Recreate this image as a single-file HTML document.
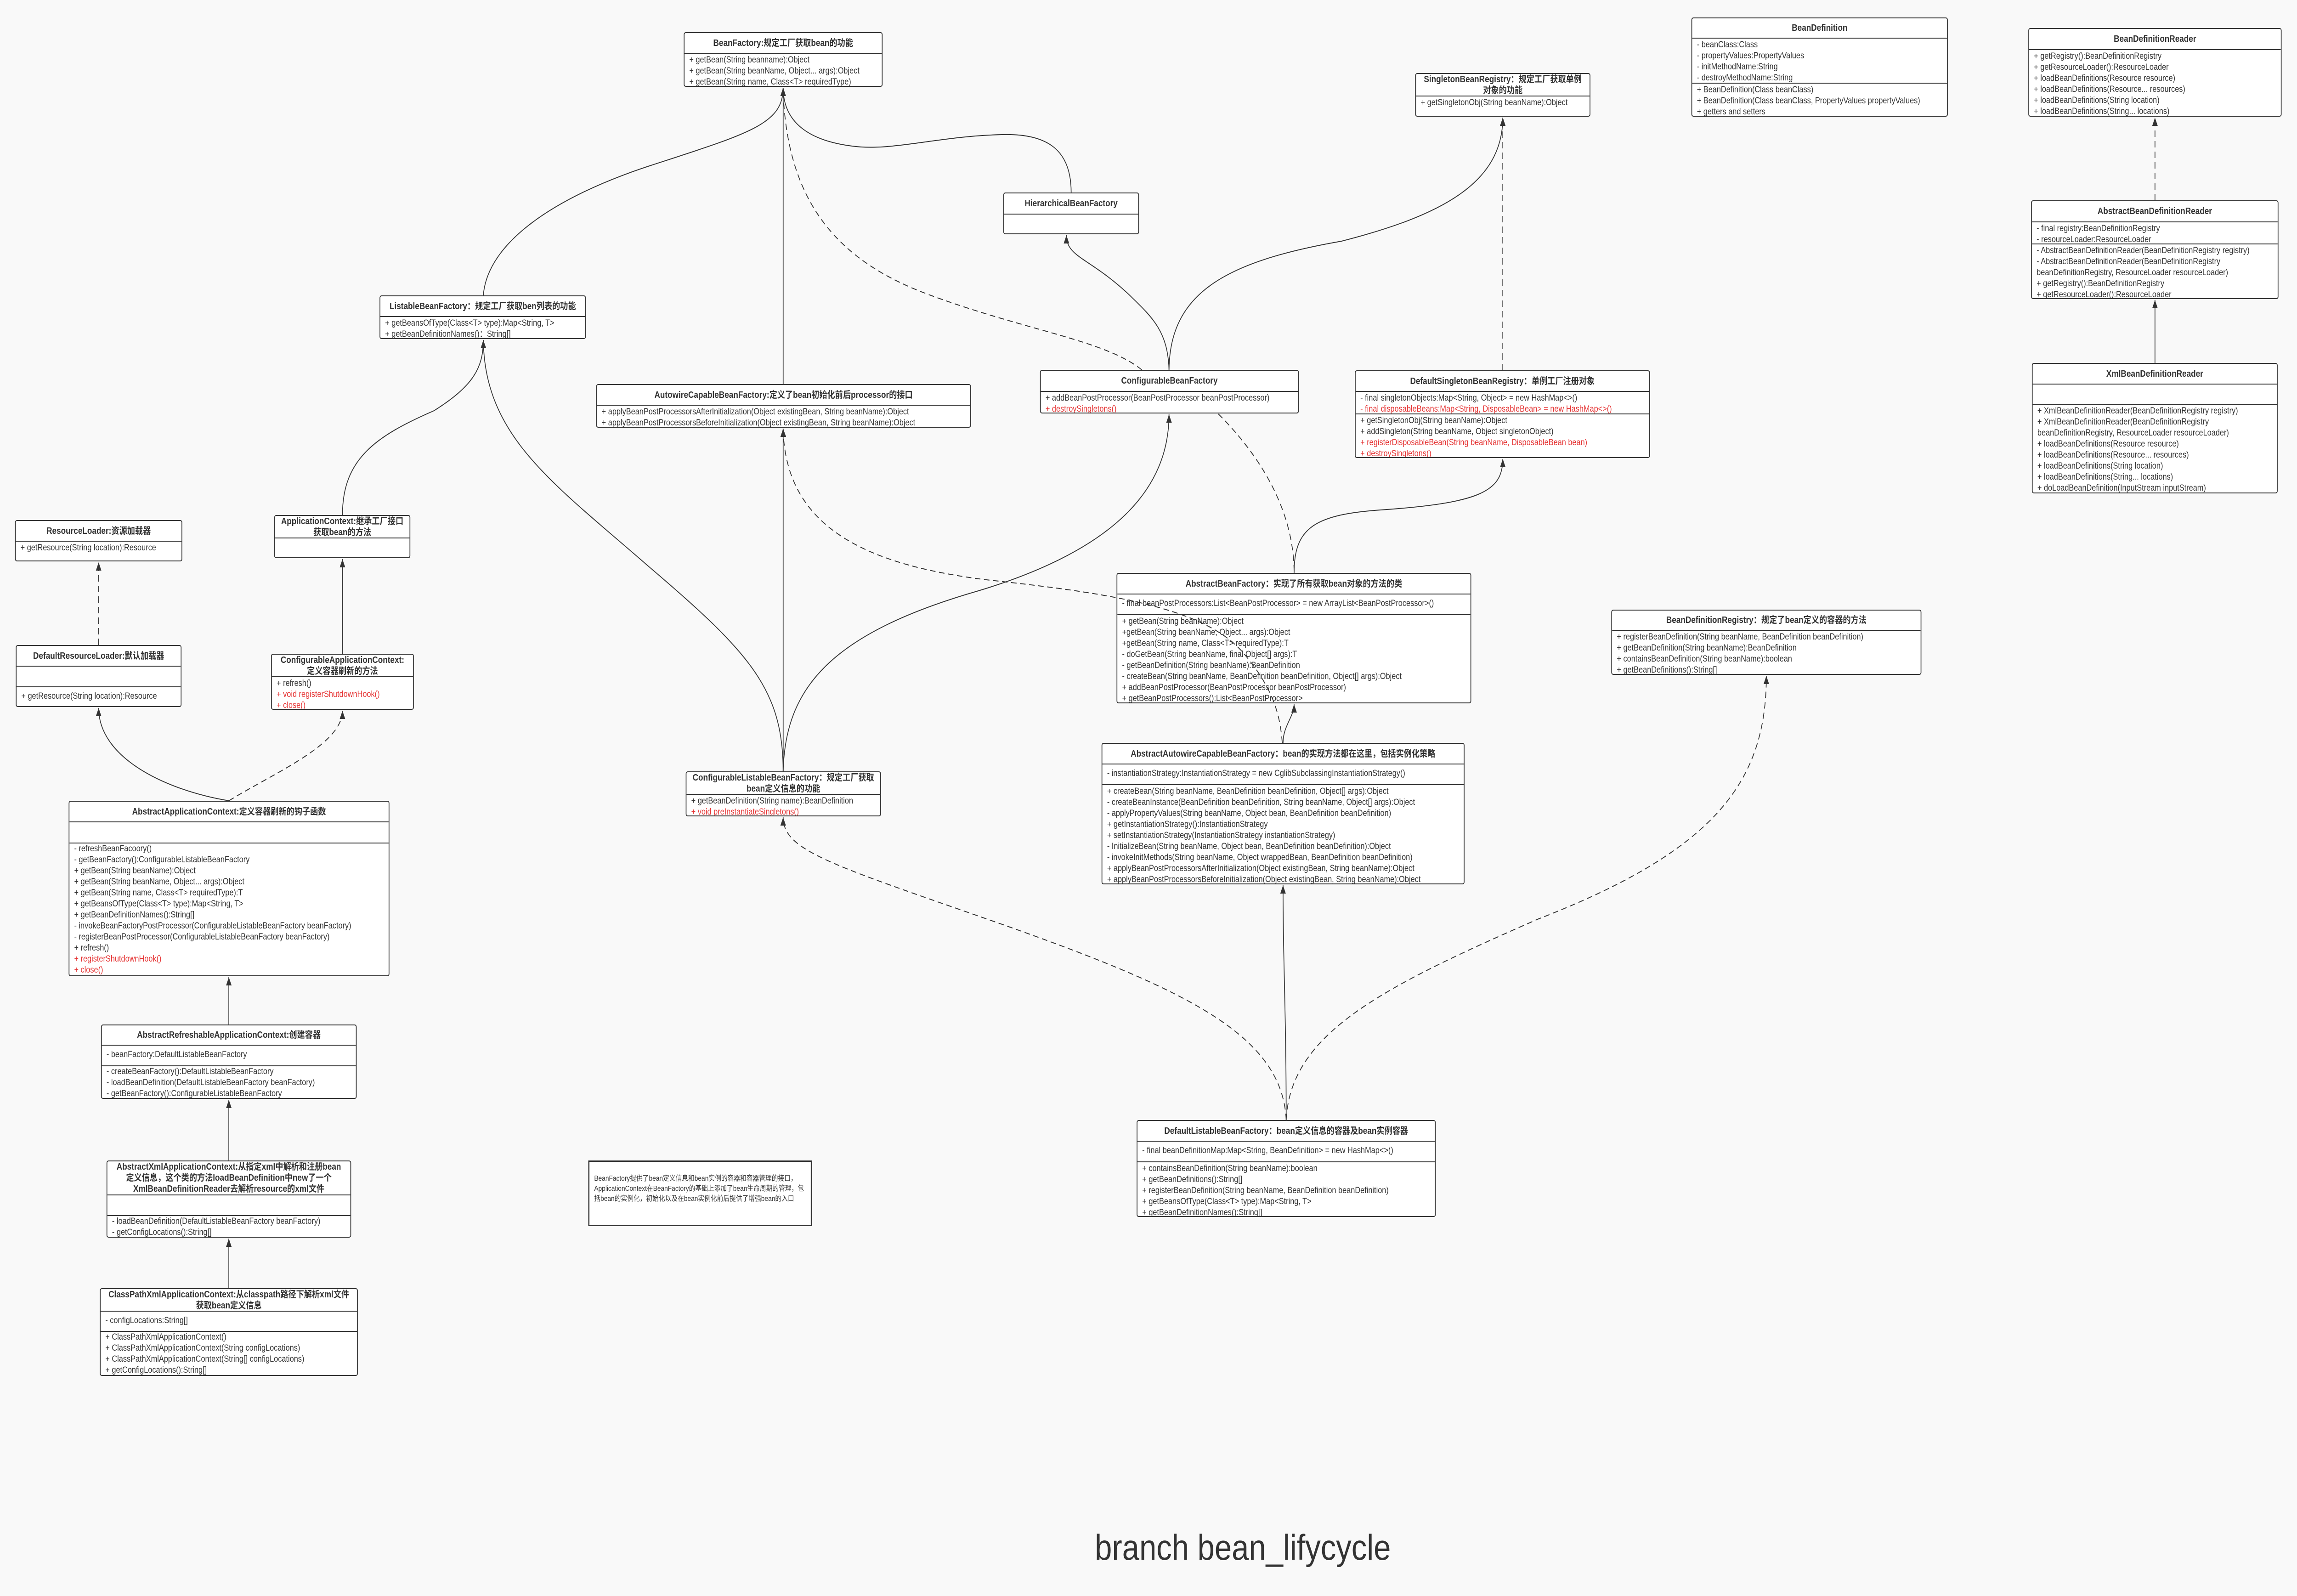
<!DOCTYPE html>
<html><head><meta charset="utf-8"><meta name="viewport" content="width=5822, initial-scale=1"><style>
html,body{margin:0;padding:0;width:100vw;height:100vh;overflow:hidden;background:#f9f9f9}
#root{position:absolute;left:0;top:0;width:5822px;height:3474px;overflow:hidden;background:#f9f9f9;font-family:"Liberation Sans","Noto Sans CJK SC",sans-serif;color:#333;transform-origin:0 0}
.b{position:absolute;border:2px solid #333;border-radius:5px;background:#fff;box-sizing:border-box;overflow:hidden}
.t{border-bottom:2px solid #333;font-weight:bold;font-size:20px;line-height:24px;text-align:center;display:flex;align-items:center;justify-content:center;box-sizing:border-box;white-space:nowrap;overflow:hidden}
.a{border-bottom:2px solid #333;box-sizing:border-box;font-size:19px;line-height:24px;padding:2px 12px;white-space:nowrap;overflow:hidden}
.m{font-size:19px;line-height:24px;padding:2px 12px;white-space:nowrap;overflow:hidden}
.r{color:#e53333}
svg{position:absolute;left:0;top:0}
</style></head><body><div id="root">

<div class="b" style="left:1733px;top:70px;width:504px;height:119px"><div class="t" style="height:45px">BeanFactory:规定工厂获取bean的功能</div><div class="m">+ getBean(String beanname):Object<br>+ getBean(String beanName, Object... args):Object<br>+ getBean(String name, Class&lt;T&gt; requiredType)</div></div>

<div class="b" style="left:2543px;top:419px;width:344px;height:91px"><div class="t" style="height:46px">HierarchicalBeanFactory</div></div>

<div class="b" style="left:962px;top:643px;width:523px;height:95px"><div class="t" style="height:45px">ListableBeanFactory：规定工厂获取ben列表的功能</div><div class="m">+ getBeansOfType(Class&lt;T&gt; type):Map&lt;String, T&gt;<br>+ getBeanDefinitionNames()：String[]</div></div>

<div class="b" style="left:1511px;top:836px;width:950px;height:95px"><div class="t" style="height:45px">AutowireCapableBeanFactory:定义了bean初始化前后processor的接口</div><div class="m">+ applyBeanPostProcessorsAfterInitialization(Object existingBean, String beanName):Object<br>+ applyBeanPostProcessorsBeforeInitialization(Object existingBean, String beanName):Object</div></div>

<div class="b" style="left:2636px;top:805px;width:656px;height:95px"><div class="t" style="height:46px">ConfigurableBeanFactory</div><div class="m">+ addBeanPostProcessor(BeanPostProcessor beanPostProcessor)<br><span class="r">+ destroySingletons()</span></div></div>

<div class="b" style="left:3587px;top:159px;width:444px;height:95px"><div class="t" style="height:49px">SingletonBeanRegistry：规定工厂获取单例<br>对象的功能</div><div class="m">+ getSingletonObj(String beanName):Object</div></div>

<div class="b" style="left:4287px;top:38px;width:650px;height:216px"><div class="t" style="height:44px">BeanDefinition</div><div class="a" style="height:98px">- beanClass:Class<br>- propertyValues:PropertyValues<br>- initMethodName:String<br>- destroyMethodName:String</div><div class="m">+ BeanDefinition(Class beanClass)<br>+ BeanDefinition(Class beanClass, PropertyValues propertyValues)<br>+ getters and setters</div></div>

<div class="b" style="left:5141px;top:61px;width:642px;height:193px"><div class="t" style="height:46px">BeanDefinitionReader</div><div class="m">+ getRegistry():BeanDefinitionRegistry<br>+ getResourceLoader():ResourceLoader<br>+ loadBeanDefinitions(Resource resource)<br>+ loadBeanDefinitions(Resource... resources)<br>+ loadBeanDefinitions(String location)<br>+ loadBeanDefinitions(String... locations)</div></div>

<div class="b" style="left:5148px;top:436px;width:627px;height:215px"><div class="t" style="height:46px">AbstractBeanDefinitionReader</div><div class="a" style="height:48px">- final registry:BeanDefinitionRegistry<br>- resourceLoader:ResourceLoader</div><div class="m">- AbstractBeanDefinitionReader(BeanDefinitionRegistry registry)<br>- AbstractBeanDefinitionReader(BeanDefinitionRegistry<br>beanDefinitionRegistry, ResourceLoader resourceLoader)<br>+ getRegistry():BeanDefinitionRegistry<br>+ getResourceLoader():ResourceLoader</div></div>

<div class="b" style="left:5150px;top:790px;width:623px;height:284px"><div class="t" style="height:45px">XmlBeanDefinitionReader</div><div class="a" style="height:44px"></div><div class="m">+ XmlBeanDefinitionReader(BeanDefinitionRegistry registry)<br>+ XmlBeanDefinitionReader(BeanDefinitionRegistry<br>beanDefinitionRegistry, ResourceLoader resourceLoader)<br>+ loadBeanDefinitions(Resource resource)<br>+ loadBeanDefinitions(Resource... resources)<br>+ loadBeanDefinitions(String location)<br>+ loadBeanDefinitions(String... locations)<br>+ doLoadBeanDefinition(InputStream inputStream)</div></div>

<div class="b" style="left:3434px;top:806px;width:748px;height:191px"><div class="t" style="height:45px">DefaultSingletonBeanRegistry：单例工厂注册对象</div><div class="a" style="height:49px">- final singletonObjects:Map&lt;String, Object&gt; = new HashMap&lt;&gt;()<br><span class="r">- final disposableBeans:Map&lt;String, DisposableBean&gt; = new HashMap&lt;&gt;()</span></div><div class="m">+ getSingletonObj(String beanName):Object<br>+ addSingleton(String beanName, Object singletonObject)<br><span class="r">+ registerDisposableBean(String beanName, DisposableBean bean)<br>+ destroySingletons()</span></div></div>

<div class="b" style="left:2830px;top:1247px;width:899px;height:284px"><div class="t" style="height:45px">AbstractBeanFactory：实现了所有获取bean对象的方法的类</div><div class="a" style="height:45px;padding-top:8px">- final beanPostProcessors:List&lt;BeanPostProcessor&gt; = new ArrayList&lt;BeanPostProcessor&gt;()</div><div class="m">+ getBean(String beanName):Object<br>+getBean(String beanName, Object... args):Object<br>+getBean(String name, Class&lt;T&gt; requiredType):T<br>- doGetBean(String beanName, final Object[] args):T<br>- getBeanDefinition(String beanName):BeanDefinition<br>- createBean(String beanName, BeanDefinition beanDefinition, Object[] args):Object<br>+ addBeanPostProcessor(BeanPostProcessor beanPostProcessor)<br>+ getBeanPostProcessors():List&lt;BeanPostProcessor&gt;</div></div>

<div class="b" style="left:2792px;top:1617px;width:920px;height:308px"><div class="t" style="height:45px">AbstractAutowireCapableBeanFactory：bean的实现方法都在这里，包括实例化策略</div><div class="a" style="height:45px;padding-top:8px">- instantiationStrategy:InstantiationStrategy = new CglibSubclassingInstantiationStrategy()</div><div class="m">+ createBean(String beanName, BeanDefinition beanDefinition, Object[] args):Object<br>- createBeanInstance(BeanDefinition beanDefinition, String beanName, Object[] args):Object<br>- applyPropertyValues(String beanName, Object bean, BeanDefinition beanDefinition)<br>+ getInstantiationStrategy():InstantiationStrategy<br>+ setInstantiationStrategy(InstantiationStrategy instantiationStrategy)<br>- InitializeBean(String beanName, Object bean, BeanDefinition beanDefinition):Object<br>- invokeInitMethods(String beanName, Object wrappedBean, BeanDefinition beanDefinition)<br>+ applyBeanPostProcessorsAfterInitialization(Object existingBean, String beanName):Object<br>+ applyBeanPostProcessorsBeforeInitialization(Object existingBean, String beanName):Object</div></div>

<div class="b" style="left:1738px;top:1679px;width:495px;height:98px"><div class="t" style="height:49px">ConfigurableListableBeanFactory：规定工厂获取<br>bean定义信息的功能</div><div class="m">+ getBeanDefinition(String name):BeanDefinition<br><span class="r">+ void preInstantiateSingletons()</span></div></div>

<div class="b" style="left:4084px;top:1327px;width:786px;height:142px"><div class="t" style="height:44px">BeanDefinitionRegistry：规定了bean定义的容器的方法</div><div class="m">+ registerBeanDefinition(String beanName, BeanDefinition beanDefinition)<br>+ getBeanDefinition(String beanName):BeanDefinition<br>+ containsBeanDefinition(String beanName):boolean<br>+ getBeanDefinitions():String[]</div></div>

<div class="b" style="left:2881px;top:2438px;width:758px;height:211px"><div class="t" style="height:45px">DefaultListableBeanFactory：bean定义信息的容器及bean实例容器</div><div class="a" style="height:45px;padding-top:8px">- final beanDefinitionMap:Map&lt;String, BeanDefinition&gt; = new HashMap&lt;&gt;()</div><div class="m">+ containsBeanDefinition(String beanName):boolean<br>+ getBeanDefinitions():String[]<br>+ registerBeanDefinition(String beanName, BeanDefinition beanDefinition)<br>+ getBeansOfType(Class&lt;T&gt; type):Map&lt;String, T&gt;<br>+ getBeanDefinitionNames():String[]</div></div>

<div style="position:absolute;left:1491px;top:2526px;width:567px;height:143px;border:3px solid #333;background:#fff;box-sizing:border-box;font-size:16px;line-height:22px;padding:26px 12px 0 12px;overflow:hidden">BeanFactory提供了bean定义信息和bean实例的容器和容器管理的接口，ApplicationContext在BeanFactory的基础上添加了bean生命周期的管理，包括bean的实例化，初始化以及在bean实例化前后提供了增强bean的入口</div>

<div class="b" style="left:38px;top:1132px;width:424px;height:90px"><div class="t" style="height:45px">ResourceLoader:资源加载器</div><div class="m">+ getResource(String location):Resource</div></div>

<div class="b" style="left:40px;top:1404px;width:420px;height:135px"><div class="t" style="height:45px">DefaultResourceLoader:默认加载器</div><div class="a" style="height:45px"></div><div class="m" style="padding-top:8px">+ getResource(String location):Resource</div></div>

<div class="b" style="left:695px;top:1121px;width:345px;height:94px"><div class="t" style="height:49px">ApplicationContext:继承工厂接口<br>获取bean的方法</div></div>

<div class="b" style="left:687px;top:1423px;width:362px;height:122px"><div class="t" style="height:49px">ConfigurableApplicationContext:<br>定义容器刷新的方法</div><div class="m">+ refresh()<br><span class="r">+ void registerShutdownHook()<br>+ close()</span></div></div>

<div class="b" style="left:174px;top:1743px;width:813px;height:382px"><div class="t" style="height:45px">AbstractApplicationContext:定义容器刷新的钩子函数</div><div class="a" style="height:46px"></div><div class="m" style="padding-top:0">- refreshBeanFacoory()<br>- getBeanFactory():ConfigurableListableBeanFactory<br>+ getBean(String beanName):Object<br>+ getBean(String beanName, Object... args):Object<br>+ getBean(String name, Class&lt;T&gt; requiredType):T<br>+ getBeansOfType(Class&lt;T&gt; type):Map&lt;String, T&gt;<br>+ getBeanDefinitionNames():String[]<br>- invokeBeanFactoryPostProcessor(ConfigurableListableBeanFactory beanFactory)<br>- registerBeanPostProcessor(ConfigurableListableBeanFactory beanFactory)<br>+ refresh()<br><span class="r">+ registerShutdownHook()<br>+ close()</span></div></div>

<div class="b" style="left:256px;top:2230px;width:648px;height:162px"><div class="t" style="height:44px">AbstractRefreshableApplicationContext:创建容器</div><div class="a" style="height:45px;padding-top:8px">- beanFactory:DefaultListableBeanFactory</div><div class="m" style="padding-top:0">- createBeanFactory():DefaultListableBeanFactory<br>- loadBeanDefinition(DefaultListableBeanFactory beanFactory)<br>- getBeanFactory():ConfigurableListableBeanFactory</div></div>

<div class="b" style="left:270px;top:2526px;width:620px;height:168px"><div class="t" style="height:74px">AbstractXmlApplicationContext:从指定xml中解析和注册bean<br>定义信息，这个类的方法loadBeanDefinition中new了一个<br>XmlBeanDefinitionReader去解析resource的xml文件</div><div class="a" style="height:45px"></div><div class="m" style="padding-top:0">- loadBeanDefinition(DefaultListableBeanFactory beanFactory)<br>- getConfigLocations():String[]</div></div>

<div class="b" style="left:253px;top:2804px;width:654px;height:191px"><div class="t" style="height:49px">ClassPathXmlApplicationContext:从classpath路径下解析xml文件<br>获取bean定义信息</div><div class="a" style="height:44px;padding-top:8px">- configLocations:String[]</div><div class="m" style="padding-top:0">+ ClassPathXmlApplicationContext()<br>+ ClassPathXmlApplicationContext(String configLocations)<br>+ ClassPathXmlApplicationContext(String[] configLocations)<br>+ getConfigLocations():String[]</div></div>

<div style="position:absolute;left:2700px;top:3318px;width:900px;text-align:center;font-size:78px;line-height:100px;color:#333;white-space:nowrap">branch bean_lifycycle</div>

<svg width="5822" height="3474" viewBox="0 0 5822 3474">
<defs><marker id="ar" markerUnits="userSpaceOnUse" markerWidth="20" markerHeight="14" refX="18" refY="7" orient="auto"><path d="M0,0 L18,7 L0,14 Z" fill="#333" stroke="none"/></marker></defs>
<g fill="none" stroke="#333" stroke-width="2">
<path d="M1225,643 C1235,530 1400,430 1650,360 C1900,290 1985,270 1985,191" marker-end="url(#ar)"/>
<path d="M1985,836 L1985,191" marker-end="url(#ar)"/>
<path d="M2715,419 C2715,330 2660,290 2540,293 C2380,296 2260,330 2160,318 C2040,305 1985,260 1985,191"/>
<path d="M2963,805 C2960,720 2920,690 2860,640 C2760,560 2703,560 2703,512" marker-end="url(#ar)"/>
<path d="M2963,805 C2965,640 3100,570 3400,525 C3650,470 3809,400 3809,256" marker-end="url(#ar)"/>
<path d="M3280,1247 C3280,1150 3330,1120 3500,1110 C3750,1095 3809,1070 3809,999" marker-end="url(#ar)"/>
<path d="M1985,1679 C1990,1500 2100,1380 2480,1286 C2850,1190 2963,1050 2963,902" marker-end="url(#ar)"/>
<path d="M1985,1679 L1985,933" marker-end="url(#ar)"/>
<path d="M1985,1679 C1985,1500 1900,1420 1640,1230 C1400,1050 1228,950 1225,740" marker-end="url(#ar)"/>
<path d="M3252,1617 C3252,1580 3280,1560 3280,1533" marker-end="url(#ar)"/>
<path d="M3260,2438 C3260,2200 3252,2100 3252,1927" marker-end="url(#ar)"/>
<path d="M868,1121 C868,1000 950,950 1100,894 C1200,840 1225,800 1225,740"/>
<path d="M868,1423 L868,1217" marker-end="url(#ar)"/>
<path d="M580,1743 C420,1720 250,1650 250,1541" marker-end="url(#ar)"/>
<path d="M580,2230 L580,2127" marker-end="url(#ar)"/>
<path d="M580,2526 L580,2394" marker-end="url(#ar)"/>
<path d="M580,2804 L580,2696" marker-end="url(#ar)"/>
<path d="M5462,790 L5462,653" marker-end="url(#ar)"/>
</g>
<g fill="none" stroke="#333" stroke-width="2" stroke-dasharray="14,9">
<path d="M2894,805 C2800,740 2600,720 2350,640 C2100,560 1995,420 1985,200"/>
<path d="M3088,901 C3180,980 3280,1100 3280,1247"/>
<path d="M3809,806 L3809,256" marker-end="url(#ar)"/>
<path d="M3250,1617 C3245,1560 3230,1500 3150,1420 C3050,1320 2800,1290 2500,1262 C2200,1230 1990,1150 1985,933" marker-end="url(#ar)"/>
<path d="M3260,2438 C3250,2250 3000,2150 2500,2000 C2100,1880 1985,1850 1985,1779" marker-end="url(#ar)"/>
<path d="M3260,2438 C3270,2250 3500,2150 3900,2000 C4350,1850 4477,1700 4477,1471" marker-end="url(#ar)"/>
<path d="M580,1743 C700,1680 868,1620 868,1547" marker-end="url(#ar)"/>
<path d="M250,1404 L250,1224" marker-end="url(#ar)"/>
<path d="M5462,436 L5462,256" marker-end="url(#ar)"/>
</g>
</svg>
</div>
<script>
(function(){
  var w=window.innerWidth||document.documentElement.clientWidth||5822;
  var h=window.innerHeight||document.documentElement.clientHeight||3474;
  var sx=Math.min(1,w/5822), sy=Math.min(1,h/3474);
  if(sx<1||sy<1){document.getElementById('root').style.transform='scale('+sx+','+sy+')';}
})();
</script>
</body></html>
